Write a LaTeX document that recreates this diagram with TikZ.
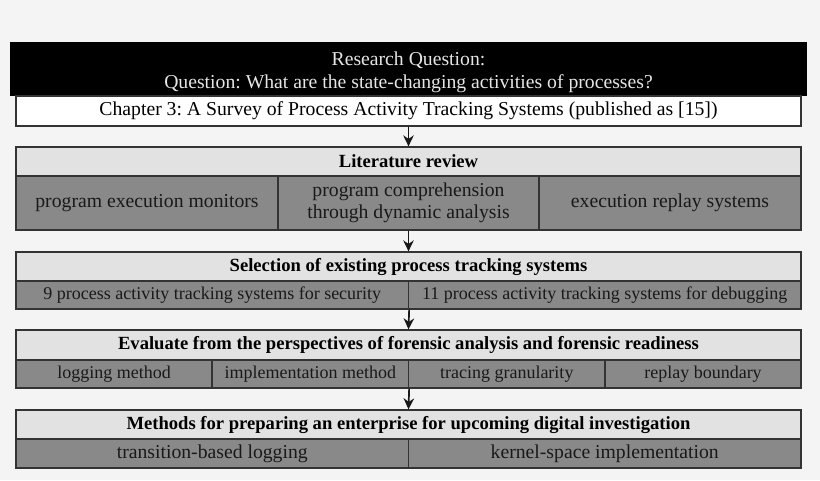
\documentclass[tikz,border=0pt]{standalone}
\usepackage{fontspec}
\setmainfont{Liberation Serif}
\usetikzlibrary{arrows.meta}
\definecolor{bg}{HTML}{F4F4F4}
\definecolor{hdrfill}{HTML}{E2E2E2}
\definecolor{cellfill}{HTML}{898989}
\definecolor{edge}{HTML}{333333}
\definecolor{qtext}{HTML}{E6E6E6}
\tikzset{
  box/.style={draw=edge, line width=1.3pt, inner sep=0pt, align=center, font=\fontsize{19.7}{22}\selectfont},
  hdr/.style={box, fill=hdrfill, font=\fontsize{18.6}{21}\selectfont\bfseries},
  cell/.style={box, fill=cellfill, text=black!90},
  smallcell/.style={cell, font=\fontsize{18}{21}\selectfont},
  arr/.style={-{Stealth[length=11pt,width=10.5pt]}, line width=1.7pt, draw=black!90}
}
\begin{document}
\frenchspacing
\begin{tikzpicture}[x=1pt,y=-1pt]
\fill[bg] (0,0) rectangle (820,480);
\useasboundingbox (0,0) rectangle (820,480);
% top
\node[fill=black, text=qtext, inner sep=0pt, minimum width=797pt, minimum height=54pt, align=center, font=\fontsize{19.7}{23}\selectfont] (rq) at (408.5,69) {\rule{0pt}{20pt}Research Question:\\Question: What are the state-changing activities of processes?};
\node[box, fill=white, minimum width=785pt, minimum height=30pt] (ch) at (408.5,111) {Chapter 3: A Survey of Process Activity Tracking Systems (published as [15])};
% literature review
\node[hdr, minimum width=785pt, minimum height=29pt] (lit) at (408.5,161.5) {Literature review};
\node[cell, minimum width=262pt, minimum height=54pt] (l1) at (147,203) {program execution monitors};
\node[cell, minimum width=261pt, minimum height=54pt] (l2) at (408.5,203) {program comprehension\\through dynamic analysis};
\node[cell, minimum width=262pt, minimum height=54pt] (l3) at (670,203) {execution replay systems};
% selection
\node[hdr, minimum width=785pt, minimum height=29pt] (sel) at (408.5,266.5) {Selection of existing process tracking systems};
\node[smallcell, minimum width=392.5pt, minimum height=28pt] (s1) at (212.25,295) {9 process activity tracking systems for security};
\node[smallcell, minimum width=392.5pt, minimum height=28pt] (s2) at (604.75,295) {11 process activity tracking systems for debugging};
% evaluate
\node[hdr, minimum width=785pt, minimum height=30pt] (ev) at (408.5,345) {Evaluate from the perspectives of forensic analysis and forensic readiness};
\node[smallcell, minimum width=196pt, minimum height=28pt] (e1) at (114,374) {logging method};
\node[smallcell, minimum width=196.5pt, minimum height=28pt] (e2) at (310.25,374) {implementation method};
\node[smallcell, minimum width=196.5pt, minimum height=28pt] (e3) at (506.75,374) {tracing granularity};
\node[smallcell, minimum width=196pt, minimum height=28pt] (e4) at (703,374) {replay boundary};
% methods
\node[hdr, minimum width=785pt, minimum height=29pt] (me) at (408.5,424.5) {Methods for preparing an enterprise for upcoming digital investigation};
\node[cell, minimum width=392.5pt, minimum height=29pt] (m1) at (212.25,453.5) {transition-based logging};
\node[cell, minimum width=392.5pt, minimum height=29pt] (m2) at (604.75,453.5) {kernel-space implementation};
% arrows
\draw[arr] (ch.south) -- (lit.north);
\draw[arr] (l2.south) -- (sel.north);
\draw[arr] (s1.south east) -- (ev.north);
\draw[arr] (e2.south east) -- (me.north);
\end{tikzpicture}
\end{document}
